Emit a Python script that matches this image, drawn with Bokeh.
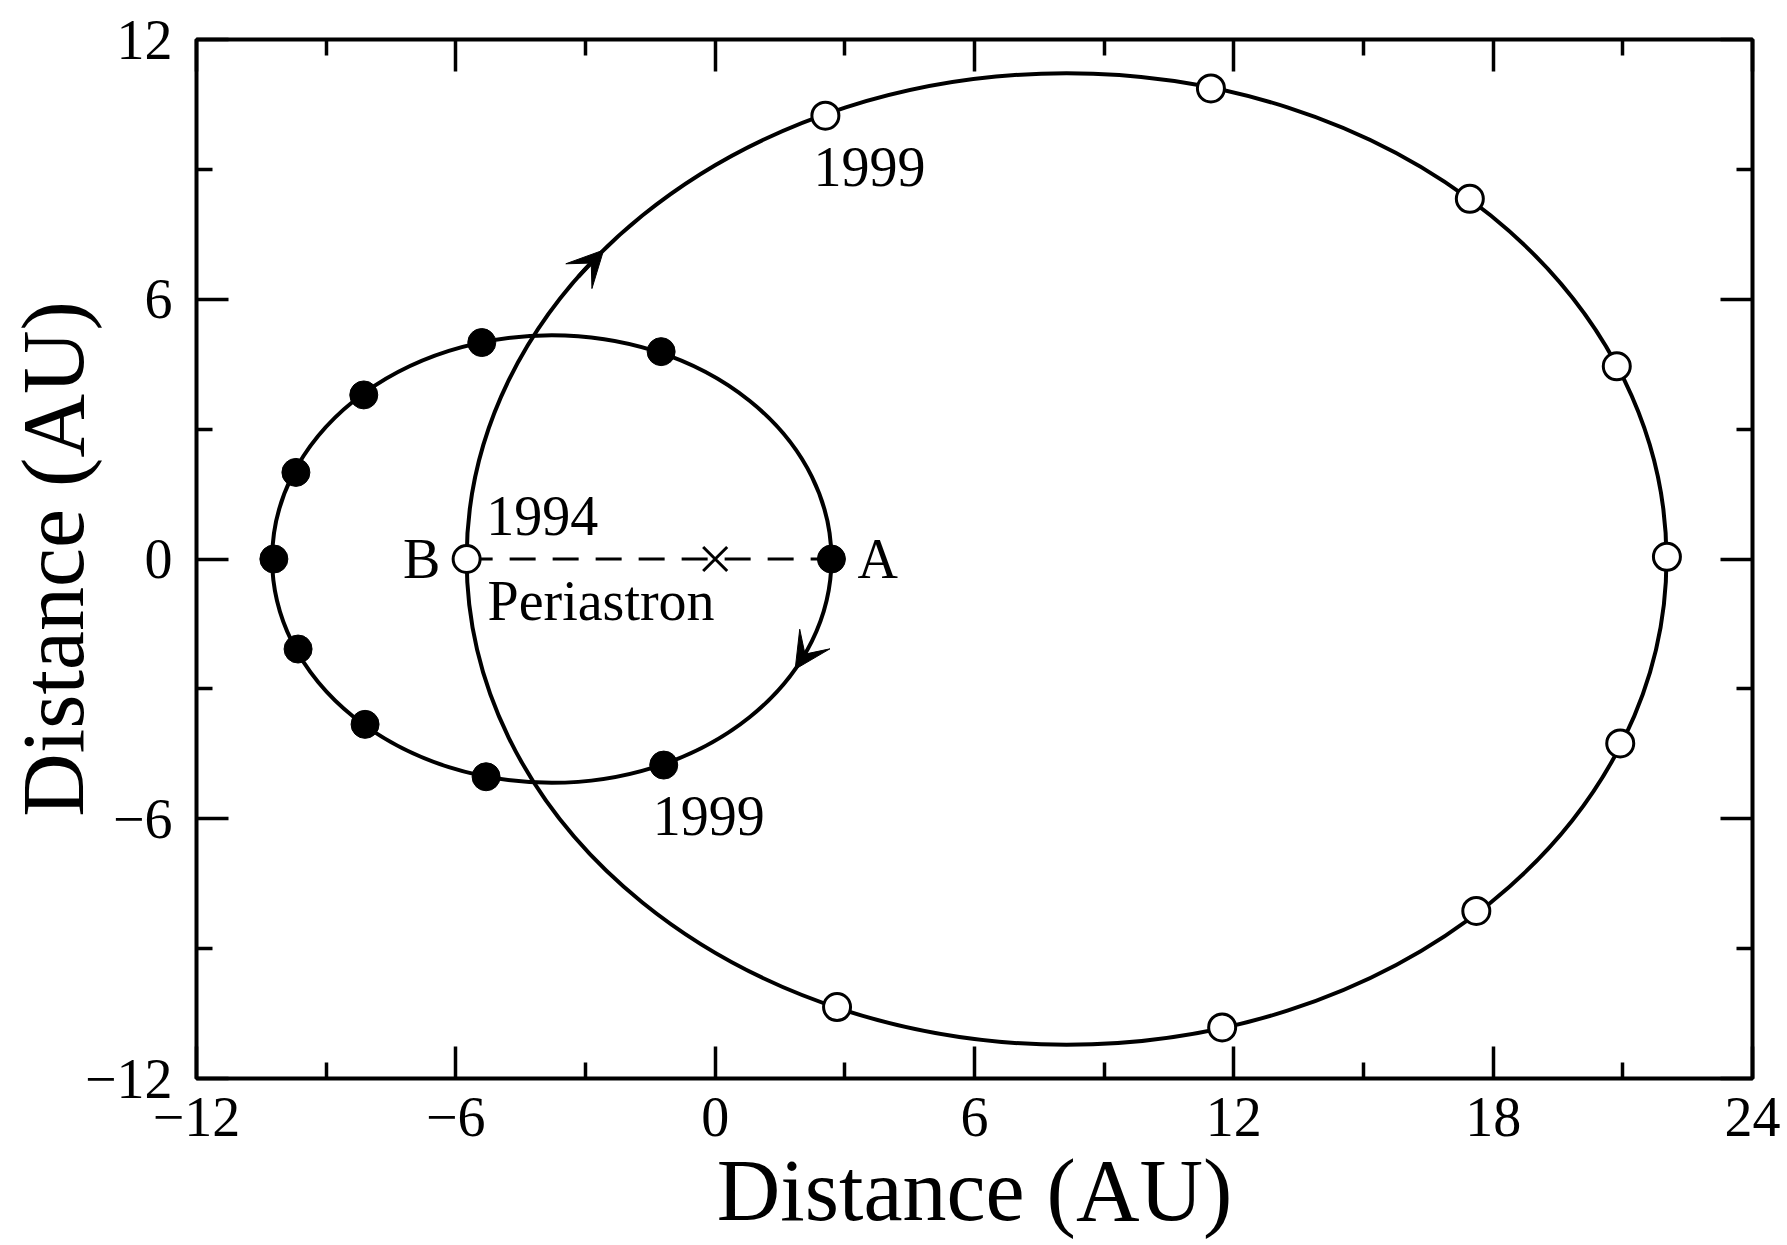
import math
from bokeh.plotting import figure
from bokeh.models import (Range1d, LinearAxis, FixedTicker, CustomJSTickFormatter,
                          Label, Arrow, VeeHead)
from bokeh.embed import file_html
from bokeh.resources import INLINE

# ---------------- data ----------------
# star A (filled circles, inner orbit), first point = A at periastron epoch
small_x = [2.69, -1.25, -5.40, -8.13, -9.70, -10.21, -9.65, -8.10, -5.30, -1.19]
small_y = [0.00, 4.79, 5.00, 3.79, 2.00, 0.00, -2.08, -3.82, -5.03, -4.76]
# star B (open circles, outer orbit), first point = B
big_x = [-5.75, 2.55, 11.47, 17.46, 20.86, 22.02, 20.94, 17.61, 11.73, 2.82]
big_y = [0.00, 10.24, 10.87, 8.32, 4.45, 0.05, -4.26, -8.13, -10.82, -10.35]

# orbit ellipses: centre x, semi-major, semi-minor
orbit_cx = [-3.78, 8.13]
orbit_a = [6.47, 13.88]
orbit_b = [5.17, 11.22]

x_ticks = [-12, -6, 0, 6, 12, 18, 24]
x_minor = [-9, -3, 3, 9, 15, 21]
y_ticks = [-12, -6, 0, 6, 12]
y_minor = [-9, -3, 3, 9]

axis_title = "Distance (AU)"

FONT = "Liberation Serif"

p = figure(width=1787, height=1245, output_backend="svg", toolbar_location=None,
           x_range=Range1d(-12, 24), y_range=Range1d(-12, 12),
           x_axis_location=None, y_axis_location=None,
           min_border_left=196, min_border_right=35, min_border_top=39, min_border_bottom=167)
p.grid.visible = False
p.outline_line_color = "black"
p.outline_line_width = 4
p.background_fill_color = "white"
p.border_fill_color = "white"

fmt = CustomJSTickFormatter(code="return tick < 0 ? '\u2212' + Math.abs(tick) : '' + tick;")

def make_axis(ticks, minor, show_labels, standoff, title=None, title_standoff=0):
    ax = LinearAxis(ticker=FixedTicker(ticks=ticks, minor_ticks=minor), formatter=fmt)
    ax.axis_line_color = None
    ax.major_tick_in = 32
    ax.major_tick_out = 0
    ax.minor_tick_in = 16
    ax.minor_tick_out = 0
    ax.major_tick_line_width = 3.5
    ax.minor_tick_line_width = 3.5
    ax.major_tick_line_color = "black"
    ax.minor_tick_line_color = "black"
    if show_labels:
        ax.major_label_text_font = FONT
        ax.major_label_text_font_size = "56px"
        ax.major_label_text_color = "black"
        ax.major_label_standoff = standoff
    else:
        ax.major_label_text_font_size = "0px"
        ax.major_label_text_color = None
        ax.major_label_standoff = 0
    if title is not None:
        ax.axis_label = title
        ax.axis_label_text_font = FONT
        ax.axis_label_text_font_size = "88px"
        ax.axis_label_text_font_style = "normal"
        ax.axis_label_text_color = "black"
        ax.axis_label_standoff = title_standoff
    return ax

p.add_layout(make_axis(x_ticks, x_minor, True, 19, axis_title, 3), "below")
p.add_layout(make_axis(x_ticks, x_minor, False, 0), "above")
p.add_layout(make_axis(y_ticks, y_minor, True, 24, axis_title, -20), "left")
p.add_layout(make_axis(y_ticks, y_minor, False, 0), "right")

# orbits
p.ellipse(x=orbit_cx, y=[0, 0], width=[2 * a for a in orbit_a], height=[2 * b for b in orbit_b],
          fill_color=None, line_color="black", line_width=4)

# line of apsides (B -> A), dashed
p.line(x=[big_x[0], small_x[0]], y=[big_y[0], small_y[0]], line_color="black",
       line_width=3, line_dash="26 17")
# centre of mass
p.scatter(x=[0], y=[0], marker="x", size=34, line_color="black", line_width=3)

# star positions
p.scatter(x=small_x, y=small_y, marker="circle", size=28, fill_color="black",
          line_color="black", line_width=1)
p.scatter(x=big_x, y=big_y, marker="circle", size=27, fill_color="white",
          line_color="black", line_width=3)

# direction-of-motion arrows (clockwise), placed by parametric angle on each orbit
arrow_t = [(-25.5, -29.5), (144.5, 140.5)]
for i, (t0, t1) in enumerate(arrow_t):
    cx, a, b = orbit_cx[i], orbit_a[i], orbit_b[i]
    xs = cx + a * math.cos(math.radians(t0)); ys = b * math.sin(math.radians(t0))
    xe = cx + a * math.cos(math.radians(t1)); ye = b * math.sin(math.radians(t1))
    p.add_layout(Arrow(end=VeeHead(size=36, fill_color="black", line_color="black", line_width=1),
                       x_start=xs, y_start=ys, x_end=xe, y_end=ye,
                       line_color="black", line_width=4))

def lab(x, y, text, size="56px", align="center", baseline="middle", angle=0.0):
    p.add_layout(Label(x=x, y=y, text=text, text_font=FONT, text_font_size=size,
                       text_color="black", text_align=align, text_baseline=baseline,
                       angle=angle))

lab(3.57, 9.05, "1999")
lab(-0.15, -5.93, "1999")
lab(-4.0, 1.0, "1994")
lab(-2.64, -0.96, "Periastron")
lab(-6.79, 0.0, "B")
lab(3.76, 0.0, "A")

open("out.html", "w").write(file_html(p, INLINE))
